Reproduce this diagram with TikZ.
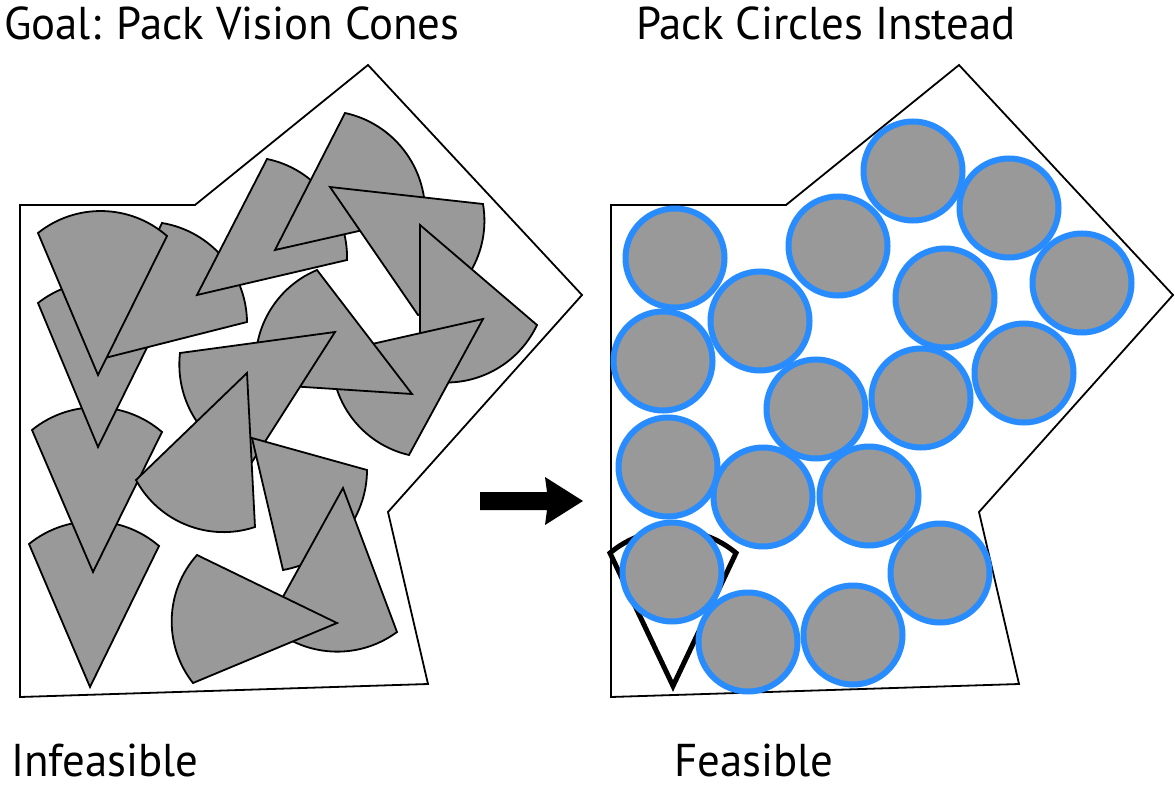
\documentclass[tikz,border=0pt]{standalone}
\usepackage{fontspec}
\setmainfont{PT Sans}[FakeStretch=0.975]
\usetikzlibrary{calc}
\definecolor{conegray}{RGB}{153,153,153}
\definecolor{ringblue}{RGB}{40,140,255}
% cone: apex, then the two rim corners (clockwise)
\newcommand\visioncone[4][vcone]{\draw[#1] #2 -- #3
  .. controls ($#3!0.377!40:#4$) and ($#4!0.377!-40:#3$) .. #4 -- cycle;}
\tikzset{vcone/.style={fill=conegray,draw=black,line width=1.8pt},
  coneline/.style={draw=black,line width=5pt},
  room/.style={draw=black,line width=1.8pt},
  disc/.style={fill=conegray,draw=ringblue,line width=6pt},
  lbl/.style={font=\fontsize{46}{54}\selectfont,inner sep=0pt,anchor=base west}}

\begin{document}
\begin{tikzpicture}[x=1pt,y=-1pt]
\useasboundingbox (0,0) rectangle (1175,789);

\draw[room] (20,205)--(195,205)--(368,65)--(582,295)--(388,512)--(428,684)
--(20,697)--cycle;
\draw[room] (611,205)--(786,205)--(959,65)--(1173,295)--(979,512)--(1019,684)
--(611,697)--cycle;

% infeasible packing
\visioncone{(90,687)}{(29,544)}{(159,546)}
\visioncone{(93,572)}{(32,430)}{(162,432)}
\visioncone{(98,447)}{(38,303)}{(167,307)}
\visioncone{(97,360)}{(162,223)}{(247,322)}
\visioncone{(98,375)}{(38,233)}{(167,236)}
\visioncone{(197,295)}{(267,159)}{(347,260)}
\visioncone{(275,250)}{(345,113)}{(425,216)}
\visioncone{(330,187)}{(483,204)}{(418,315)}
\visioncone{(420,225)}{(537,325)}{(420,379)}
\visioncone{(483,319)}{(409,455)}{(332,353)}
\visioncone{(412,394)}{(258,384)}{(317,270)}
\visioncone{(335,332)}{(252,462)}{(180,353)}
\visioncone{(247,373)}{(255,527)}{(136,480)}
\visioncone{(252,438)}{(367,470)}{(283,570)}
\visioncone{(343,488)}{(397,632)}{(268,624)}
\visioncone{(337,623)}{(193,683)}{(197,555)}

% feasible packing
\visioncone[coneline]{(673,686)}{(610,553)}{(736,553)}
\foreach \cx/\cy in {675/258,760/321,838/246,913/171,1009/208,1082/283,
  945/298,663/361,816/409,921/398,1024/373,668/467,763/497,869/496,
  672/572,940/573,748/642,853/635}
  \draw[disc] (\cx,\cy) circle[radius=49.5];

\fill (480,492)--(547,492)--(545,477)--(583,501)--(545,525)--(547,510)
--(480,510)--cycle;

\node[lbl] (goal) at (4,40) {Goal: Pack Vision Cones};
\node[lbl] (instead) at (636,40) {Pack Circles Instead};
\node[lbl] (infeasible) at (11,776) {Infeasible};
\node[lbl] (feasible) at (674,776) {Feasible};
\end{tikzpicture}
\end{document}
